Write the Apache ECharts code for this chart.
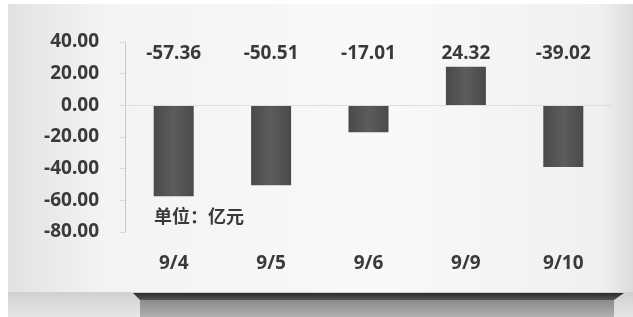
<!DOCTYPE html>
<html>
<head>
<meta charset="utf-8">
<script src="https://cdn.jsdelivr.net/npm/echarts@6/dist/echarts.min.js"></script>
<style>
	html, body { margin: 0; padding: 0; background: #fff; }
	#chart { width: 633px; height: 317px; }
</style>
</head>
<body>
<div id="chart"></div>
<script>
const dates = ["9/4", "9/5", "9/6", "9/9", "9/10"];
const netFlow = [-57.36, -50.51, -17.01, 24.32, -39.02];
const yTicks = [-80, 40, 20]; // min, max, step
const unitText = "单位：亿元";

const chart = echarts.init(document.getElementById("chart"));

const textStyle = {
	fontFamily: "Noto Sans",
	fontWeight: "bold",
	fontSize: 19,
	color: "#3a3a3a"
};

const option = {
	animation: false,
	backgroundColor: "#fff",
	graphic: [
		{
			type: "rect",
			z: -10,
			shape: { x: 8, y: 4, width: 625, height: 290 },
			style: {
				fill: new echarts.graphic.LinearGradient(0, 0, 1, 0, [
					{ offset: 0, color: "#e2e2e2" },
					{ offset: 0.15, color: "#f3f3f3" },
					{ offset: 0.6, color: "#f9f9f9" },
					{ offset: 0.95, color: "#f0f0f0" },
					{ offset: 1, color: "#dcdcdc" }
				])
			}
		},
		{
			type: "rect",
			z: -9,
			shape: { x: 8, y: 292, width: 625, height: 25 },
			style: {
				fill: new echarts.graphic.LinearGradient(0, 0, 0, 1, [
					{ offset: 0, color: "#d0d0d0" },
					{ offset: 1, color: "#e6e6e6" }
				])
			}
		},
		{
			type: "polygon",
			z: -8,
			shape: { points: [[133, 293], [624, 293], [614, 300], [140, 300]] },
			style: {
				fill: new echarts.graphic.LinearGradient(0, 0, 0, 1, [
					{ offset: 0, color: "#2a2a2a" },
					{ offset: 1, color: "#555555" }
				])
			}
		},
		{
			type: "rect",
			z: -8,
			shape: { x: 140, y: 300, width: 474, height: 17 },
			style: {
				fill: new echarts.graphic.LinearGradient(0, 0, 0, 1, [
					{ offset: 0, color: "#8a8a8a" },
					{ offset: 1, color: "#b0b0b0" }
				])
			}
		}
	],
	title: {
		text: unitText,
		left: 149,
		top: 202,
		textStyle: {
			fontFamily: "Noto Sans CJK SC",
			fontWeight: "bold",
			fontSize: 18,
			color: "#3a3a3a"
		}
	},
	grid: {
		left: 125,
		right: 21,
		top: 42,
		bottom: 85
	},
	xAxis: [
		{
			type: "category",
			data: dates,
			position: "bottom",
			axisLine: { show: false },
			axisTick: { show: false },
			axisLabel: Object.assign({ margin: 22 }, textStyle)
		},
		{
			type: "category",
			data: netFlow.map(v => v.toFixed(2)),
			position: "top",
			axisLine: { show: false },
			axisTick: { show: false },
			axisLabel: Object.assign({ inside: true, margin: 2 }, textStyle)
		}
	],
	yAxis: {
		type: "value",
		min: yTicks[0],
		max: yTicks[1],
		interval: yTicks[2],
		axisLine: { show: true, lineStyle: { color: "#c8c8c8" } },
		axisTick: { show: true, length: 5, lineStyle: { color: "#d8d8d8" } },
		splitLine: { show: false },
		axisLabel: Object.assign({ margin: 26, formatter: v => v.toFixed(2) }, textStyle)
	},
	series: [{
		type: "bar",
		data: netFlow,
		barWidth: 40,
		itemStyle: {
			color: new echarts.graphic.LinearGradient(0, 0, 1, 0, [
				{ offset: 0, color: "#4a4a4a" },
				{ offset: 0.5, color: "#5c5c5c" },
				{ offset: 1, color: "#4a4a4a" }
			])
		},
		markLine: {
			silent: true,
			symbol: "none",
			label: { show: false },
			lineStyle: { color: "#dedede", type: "solid", width: 1 },
			data: [{ yAxis: 0 }]
		}
	}]
};

chart.setOption(option);
window.onresize = chart.resize;
</script>
</body>
</html>
